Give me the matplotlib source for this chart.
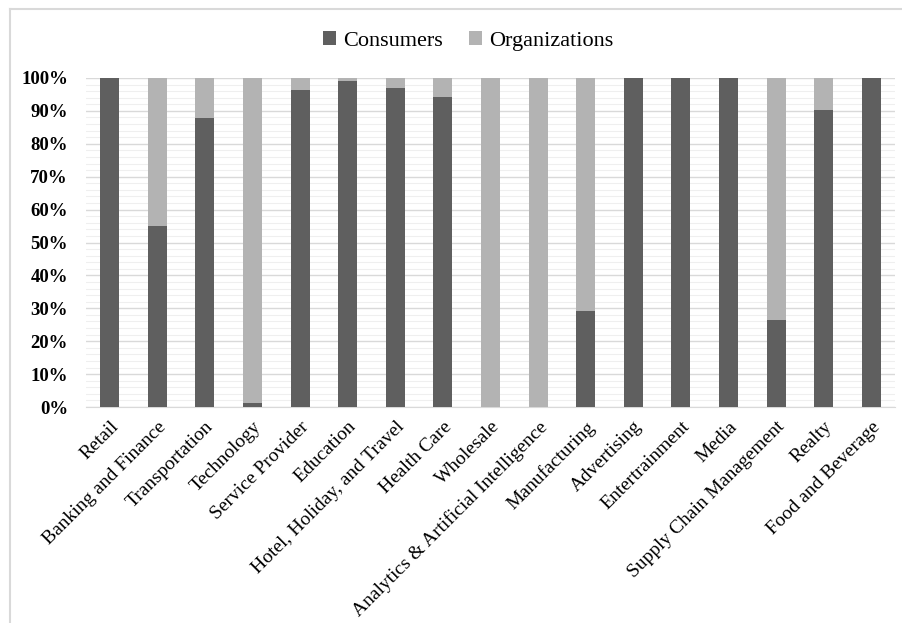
import matplotlib
matplotlib.use("Agg")
import matplotlib.pyplot as plt
from matplotlib.lines import Line2D
from matplotlib.ticker import MultipleLocator, PercentFormatter
import numpy as np

categories = [
    "Retail", "Banking and Finance", "Transportation", "Technology",
    "Service Provider", "Education", "Hotel, Holiday, and Travel",
    "Health Care", "Wholesale", "Analytics & Artificial Intelligence",
    "Manufacturing", "Advertising", "Entertrainment", "Media",
    "Supply Chain Management", "Realty", "Food and Beverage",
]
consumers = [100, 55.0, 87.8, 1.3, 96.4, 99.2, 96.9, 94.1, 0, 0,
             29.2, 100, 100, 100, 26.3, 90.2, 100]
organizations = [100 - c for c in consumers]

plt.rcParams["font.family"] = ["Liberation Serif", "DejaVu Serif"]

dark = "#5f5f5f"
light = "#b3b3b3"

fig = plt.figure(figsize=(9.03, 6.23), dpi=100)
ax = fig.add_axes([86 / 903, 1 - 407 / 623, (895 - 86) / 903, (407 - 78) / 623])

x = np.arange(len(categories))
ax.bar(x, consumers, width=0.4, color=dark, label="Consumers", zorder=3)
ax.bar(x, organizations, width=0.4, bottom=consumers, color=light,
       label="Organizations", zorder=3)

ax.set_xlim(-0.5, len(categories) - 0.5)
ax.set_ylim(0, 100)
ax.yaxis.set_major_locator(MultipleLocator(10))
ax.yaxis.set_minor_locator(MultipleLocator(2))
ax.yaxis.set_major_formatter(PercentFormatter(decimals=0))
ax.grid(axis="y", which="major", color="#d9d9d9", linewidth=1.0, zorder=0)
ax.grid(axis="y", which="minor", color="#efefef", linewidth=0.8, zorder=0)

for s in ["top", "right", "left"]:
    ax.spines[s].set_visible(False)
ax.spines["bottom"].set_color("#d9d9d9")
ax.tick_params(axis="both", which="both", length=0)
ax.tick_params(axis="y", pad=13)

for lbl in ax.get_yticklabels():
    lbl.set_fontweight("bold")
    lbl.set_fontsize(13.5)

ax.set_xticks(x)
ax.set_xticklabels(categories, rotation=45, ha="right", rotation_mode="anchor",
                   fontsize=14)
ax.tick_params(axis="x", pad=8)

fig.legend(loc="upper center", bbox_to_anchor=(468 / 903, 0.982), ncol=2,
           frameon=False, fontsize=16, handlelength=0.6, handleheight=0.6,
           handletextpad=0.3, columnspacing=1.2)

# chart frame (light border on top and left, as in the source)
fig.add_artist(Line2D([10 / 903, 1], [1 - 9 / 623, 1 - 9 / 623],
                      color="#d9d9d9", linewidth=1.5, transform=fig.transFigure))
fig.add_artist(Line2D([10 / 903, 10 / 903], [0, 1 - 9 / 623],
                      color="#d9d9d9", linewidth=1.5, transform=fig.transFigure))

fig.savefig("out.png", dpi=100)
